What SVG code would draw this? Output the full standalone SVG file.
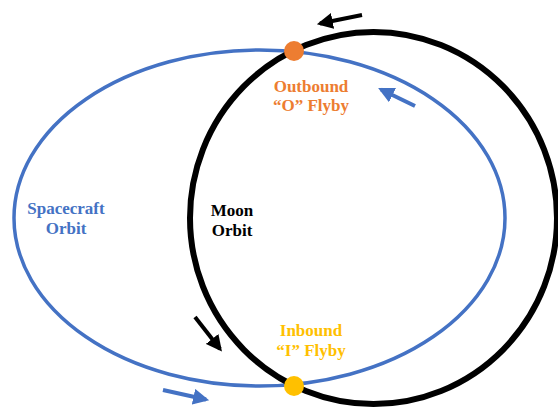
<svg xmlns="http://www.w3.org/2000/svg" width="558" height="407" viewBox="0 0 558 407">
  <style>
    .lbl { font-family: "Liberation Serif", "Times New Roman", serif; font-weight: bold; font-size: 17px; text-anchor: middle; }
    .blue { fill: #4472C4; }
    .black { fill: #000000; }
    .orange { fill: #ED7D31; }
    .gold { fill: #FFC000; }
    .orbit { fill: none; }
    .arrow-k { stroke: #000; stroke-width: 4; fill: none; }
    .arrow-b { stroke: #4472C4; stroke-width: 4; fill: none; }
  </style>
  <defs>
    <marker id="headK" viewBox="0 0 10 10" refX="8" refY="5" markerWidth="4" markerHeight="4" orient="auto" markerUnits="strokeWidth">
      <path d="M0,0 L10,5 L0,10 z" fill="#000"/>
    </marker>
    <marker id="headB" viewBox="0 0 10 10" refX="8" refY="5" markerWidth="4" markerHeight="4" orient="auto" markerUnits="strokeWidth">
      <path d="M0,0 L10,5 L0,10 z" fill="#4472C4"/>
    </marker>
  </defs>
  <rect width="558" height="407" fill="#fff"/>

  <g id="spacecraft-orbit">
    <ellipse class="orbit" cx="259.5" cy="218" rx="245.5" ry="168" stroke="#4472C4" stroke-width="3.5"/>
  </g>
  <g id="moon-orbit">
    <ellipse class="orbit" cx="373.5" cy="218" rx="183.5" ry="186" stroke="#000" stroke-width="6"/>
  </g>

  <g id="connectors">
    <line class="arrow-k" x1="362" y1="15" x2="320" y2="23.5" marker-end="url(#headK)"/>
    <line class="arrow-b" x1="415" y1="106" x2="381" y2="89.5" marker-end="url(#headB)"/>
    <line class="arrow-k" x1="195" y1="317" x2="220" y2="349" marker-end="url(#headK)"/>
    <line class="arrow-b" x1="163" y1="390" x2="206" y2="399.5" marker-end="url(#headB)"/>
  </g>

  <g id="outbound-flyby">
    <circle cx="294" cy="51" r="10" fill="#ED7D31"/>
    <text class="lbl orange" x="311" y="92">Outbound</text>
    <text class="lbl orange" x="311" y="111">“O” Flyby</text>
  </g>
  <g id="inbound-flyby">
    <circle cx="294" cy="386" r="10" fill="#FFC000"/>
    <text class="lbl gold" x="311" y="336">Inbound</text>
    <text class="lbl gold" x="311" y="356">“I” Flyby</text>
  </g>
  <g id="spacecraft-label">
    <text class="lbl blue" x="66" y="214">Spacecraft</text>
    <text class="lbl blue" x="66" y="234">Orbit</text>
  </g>
  <g id="moon-label">
    <text class="lbl black" x="232" y="216">Moon</text>
    <text class="lbl black" x="232" y="236">Orbit</text>
  </g>
</svg>
